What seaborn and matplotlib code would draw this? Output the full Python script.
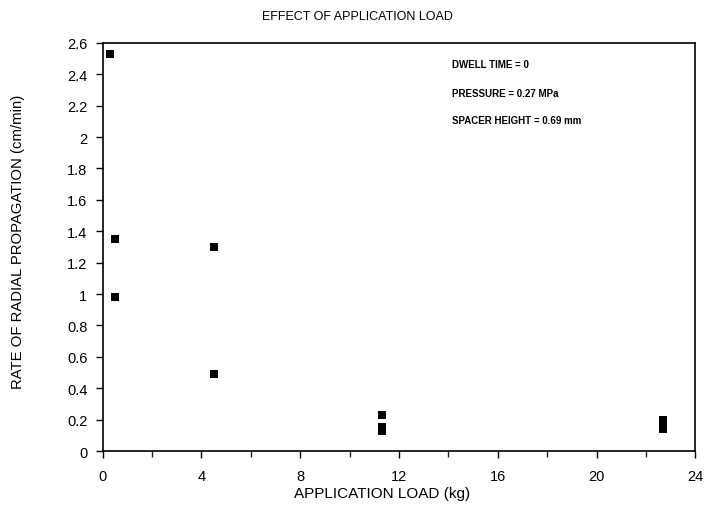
import matplotlib
matplotlib.use("Agg")
import matplotlib.pyplot as plt
import seaborn as sns
import pandas as pd
from matplotlib.ticker import MultipleLocator, FuncFormatter

load_kg = [0.3, 0.5, 0.5, 4.5, 4.5, 11.3, 11.3, 11.3, 22.7, 22.7, 22.7]
rate_cm_min = [2.53, 1.35, 0.98, 1.30, 0.49, 0.23, 0.15, 0.13, 0.20, 0.17, 0.14]
notes = ["DWELL TIME = 0", "PRESSURE = 0.27 MPa", "SPACER HEIGHT = 0.69 mm"]

df = pd.DataFrame({"load": load_kg, "rate": rate_cm_min})

sns.set_style("ticks")
plt.rcParams['font.family'] = ['Liberation Sans', 'DejaVu Sans']
plt.rcParams['text.color'] = 'black'

W, H = 706, 506
fig = plt.figure(figsize=(W / 100, H / 100), dpi=100)
ax = fig.add_axes([0.1453, 0.1067, 0.8397, 0.8067])

sns.scatterplot(data=df, x="load", y="rate", marker="s", s=36, color="black",
                edgecolor="black", linewidth=0, ax=ax)

ax.set_xlim(0, 24)
ax.set_ylim(0, 2.6)
ax.xaxis.set_major_locator(MultipleLocator(4))
ax.xaxis.set_minor_locator(MultipleLocator(2))
ax.yaxis.set_major_locator(MultipleLocator(0.2))

def fmt(v, pos):
    s = f"{v:.1f}"
    if s.endswith(".0"):
        s = s[:-2]
    return s
ax.yaxis.set_major_formatter(FuncFormatter(fmt))
ax.xaxis.set_major_formatter(FuncFormatter(lambda v, p: f"{int(round(v))}"))

for sp in ax.spines.values():
    sp.set_visible(True)
    sp.set_color("black")
    sp.set_linewidth(1.2)

ax.tick_params(axis="both", which="major", direction="out", length=5, width=1,
               labelsize=10.5, colors="black")
ax.tick_params(axis="x", which="minor", direction="out", length=4, width=1)
ax.tick_params(axis="x", pad=8)
ax.tick_params(axis="y", pad=6)

ax.set_xlabel("")
ax.set_ylabel("")
fig.text(382 / W, 1 - 494 / H, "APPLICATION LOAD (kg)", fontsize=11,
         ha="center", va="center", color="black")
fig.text(18 / W, 1 - 242 / H, "RATE OF RADIAL PROPAGATION (cm/min)", fontsize=10.7,
         ha="center", va="center", rotation=90, color="black")
fig.text(357 / W, 1 - 17 / H, "EFFECT OF APPLICATION LOAD", fontsize=9,
         ha="center", va="center", color="black")

ys = [2.465, 2.28, 2.108]
for t, yv in zip(notes, ys):
    ax.text(14.15, yv, t, fontsize=7, fontweight="bold", ha="left", va="center",
            color="black")

fig.savefig("out.png", dpi=100, facecolor="white")
